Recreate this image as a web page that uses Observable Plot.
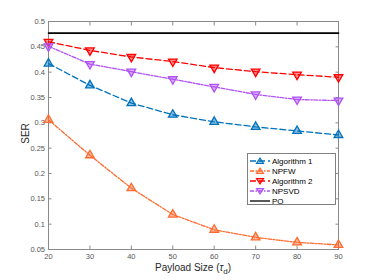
<!DOCTYPE html>
<html><head><meta charset="utf-8">
<script src="https://cdn.jsdelivr.net/npm/d3@7"></script>
<script src="https://cdn.jsdelivr.net/npm/@observablehq/plot@0.6"></script>
<style>
body{margin:0;background:#fff;font-family:"Liberation Sans",Arial,sans-serif;}
#wrap{position:relative;width:374px;height:280px;}
#xlab{position:absolute;left:0;width:374px;top:262px;line-height:11px;text-align:center;font-size:10px;color:#262626;padding-left:12px;box-sizing:border-box}
#xlab sub{font-size:8px;line-height:0}
#ylab{position:absolute;left:15px;top:128px;font-size:10px;color:#262626;transform:rotate(-90deg);transform-origin:center;}
#legend{position:absolute;left:247px;top:153px;width:89px;height:52px;border:1px solid #808080;background:#fff;box-sizing:border-box;font-size:8px;color:#000}
#legend .row{position:absolute;left:2px;height:10px;display:flex;align-items:center}
#legend .row span{margin-left:2px}
</style></head>
<body><div id="wrap"></div>
<script>
const payload = [20, 30, 40, 50, 60, 70, 80, 90];
const alg1  = [0.417, 0.374, 0.339, 0.316, 0.302, 0.292, 0.284, 0.276];
const npfw  = [0.306, 0.236, 0.171, 0.119, 0.089, 0.074, 0.064, 0.059];
const alg2  = [0.460, 0.443, 0.430, 0.421, 0.409, 0.401, 0.395, 0.390];
const npsvd = [0.451, 0.416, 0.401, 0.386, 0.371, 0.356, 0.346, 0.344];
const po    = [0.477, 0.477, 0.477, 0.477, 0.477, 0.477, 0.477, 0.477];
const xTicks = [20, 30, 40, 50, 60, 70, 80, 90];
const yTicks = [0.05, 0.1, 0.15, 0.2, 0.25, 0.3, 0.35, 0.4, 0.45, 0.5];

const series = [
  {name: "Algorithm 1", vals: alg1, color: "#0072BD", dash: "6,3", rot: 0, marker: true},
  {name: "NPFW", vals: npfw, color: "#FF6A2E", dash: "4,1.5,1.5,1.5", rot: 0, marker: true},
  {name: "Algorithm 2", vals: alg2, color: "#FF0000", dash: "6,3", rot: 180, marker: true},
  {name: "NPSVD", vals: npsvd, color: "#B050F5", dash: "4,1.5,1.5,1.5", rot: 180, marker: true},
  {name: "PO", vals: po, color: "#000000", dash: null, rot: 0, marker: false}
];
const rows = series.flatMap(s => payload.map((x, i) => ({x, y: s.vals[i], name: s.name})));

const marks = [];
for (const s of series) {
  const d = rows.filter(r => r.name === s.name);
  marks.push(Plot.line(d, {x: "x", y: "y", stroke: s.color, strokeWidth: s.marker ? 1.3 : 1.6, strokeDasharray: s.dash}));
  if (s.marker) marks.push(Plot.dot(d, {x: "x", y: "y", symbol: "triangle", r: 3.2, rotate: s.rot, stroke: s.color, strokeWidth: 1.3, fill: s.color, fillOpacity: 0.45}));
}

const chart = Plot.plot({
  width: 374, height: 280,
  marginLeft: 48, marginRight: 36, marginTop: 21, marginBottom: 31,
  style: {fontFamily: "Liberation Sans, Arial, sans-serif", background: "#fff"},
  x: {domain: [20, 90]},
  y: {domain: [0.05, 0.5]},
  marks: [
    Plot.frame({stroke: "#8a8a8a"}),
    Plot.axisX(xTicks, {anchor: "bottom", tickSize: -3.5, tickPadding: 8, fontSize: 7.5, fill: "#555", stroke: "#8a8a8a", label: null}),
    Plot.axisX(xTicks, {anchor: "top", tickSize: -3.5, text: null, stroke: "#8a8a8a", label: null}),
    Plot.axisY(yTicks, {anchor: "left", tickSize: -3.5, tickPadding: 7, fontSize: 7.5, fill: "#555", stroke: "#8a8a8a", label: null, tickFormat: d => String(+d.toFixed(2))}),
    Plot.axisY(yTicks, {anchor: "right", tickSize: -3.5, text: null, stroke: "#8a8a8a", label: null}),
    ...marks
  ]
});
const wrap = document.getElementById("wrap");
wrap.appendChild(chart);

const xl = document.createElement("div"); xl.id = "xlab";
xl.innerHTML = "Payload Size (<i>τ</i><sub>d</sub>)";
wrap.appendChild(xl);
const yl = document.createElement("div"); yl.id = "ylab"; yl.textContent = "SER";
wrap.appendChild(yl);

const lg = document.createElement("div"); lg.id = "legend";
series.forEach((s, i) => {
  const row = document.createElement("div"); row.className = "row";
  row.style.top = (2 + i * 10) + "px";
  const tri = s.marker ? (s.rot ? `<path d="M10,8 L6.5,2.5 L13.5,2.5 Z"` : `<path d="M10,2 L6.5,7.5 L13.5,7.5 Z"`) + ` fill="${s.color}" fill-opacity="0.45" stroke="${s.color}" stroke-width="1.2"/>` : "";
  row.innerHTML = `<svg width="20" height="10"><line x1="0" y1="5" x2="20" y2="5" stroke="${s.color}" stroke-width="1.3" ${s.dash ? `stroke-dasharray="${s.dash}"` : ""}/>${tri}</svg><span>${s.name}</span>`;
  lg.appendChild(row);
});
wrap.appendChild(lg);
</script></body></html>
